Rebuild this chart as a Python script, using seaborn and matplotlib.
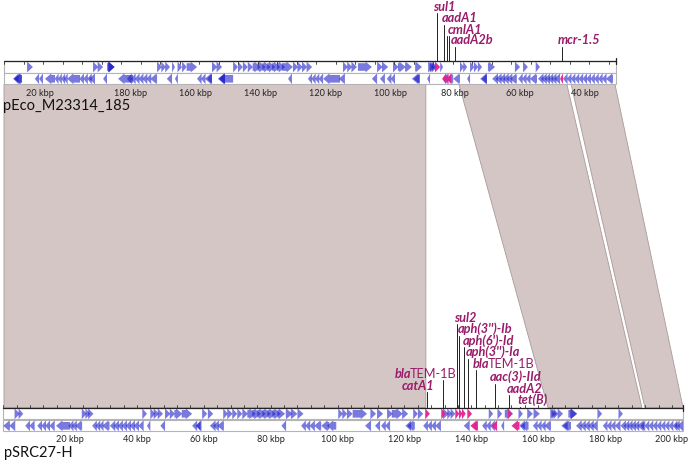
import numpy as np
import matplotlib
matplotlib.use("Agg")
import matplotlib.pyplot as plt
from matplotlib.patches import Polygon, Rectangle
import seaborn as sns

# ---- data -------------------------------------------------------------
# top plasmid, positions in kbp along the drawn (reversed, rotated) sequence
top_name = "pEco_M23314_185"
top_len = 187.7
top_origin = 31.1          # plasmid coordinate at the left end of the drawing
top_tick_kbp = [20, 180, 160, 140, 120, 100, 80, 60, 40]

top_fwd = [(7.1, 8.9), (27.4, 29.0), (28.8, 30.5), (31.7, 34.0), (32.0, 34.0), (32.3, 34.0),
           (47.1, 48.6), (48.4, 49.8), (49.6, 51.1), (51.7, 52.6), (53.4, 54.8), (54.8, 56.2),
           (56.2, 59.4), (64.0, 65.6), (65.4, 67.1), (70.5, 72.0), (72.0, 73.5), (73.5, 75.0),
           (75.0, 76.6), (76.5, 79.0), (78.0, 80.5), (79.5, 82.0), (81.0, 83.5), (82.5, 85.0),
           (84.0, 86.5), (85.5, 88.9), (88.9, 90.5), (90.3, 91.9), (91.7, 93.3), (93.1, 94.8),
           (104.3, 105.8), (105.6, 107.1), (106.9, 108.6), (108.9, 113.2), (114.8, 116.5),
           (116.3, 118.2), (119.7, 121.4), (121.2, 123.6), (123.4, 125.5), (126.5, 128.6),
           (130.5, 132.4), (131.0, 133.0), (131.6, 133.4), (134.2, 135.1), (140.3, 141.5),
           (141.3, 142.5), (143.4, 144.7), (144.6, 145.9), (145.8, 147.1), (148.9, 151.1),
           (157.2, 158.8), (159.7, 161.2), (163.6, 164.9)]
top_fwd_res = [(132.6, 134.2)]
top_rev = [(2.8, 4.5), (3.0, 5.5), (3.2, 5.5), (9.5, 10.8), (10.8, 12.0), (12.6, 15.7),
           (15.6, 16.8), (16.6, 17.8), (17.6, 18.8), (18.4, 19.6), (19.4, 23.4), (23.2, 24.6),
           (24.4, 25.8), (25.6, 27.0), (26.2, 28.0), (30.5, 31.7), (35.1, 39.7), (37.8, 39.3),
           (39.0, 40.5), (40.2, 41.7), (41.4, 42.9), (42.6, 44.1), (43.8, 45.3), (45.0, 47.1),
           (50.1, 51.7), (52.6, 53.5), (59.4, 60.8), (60.6, 62.0), (61.8, 64.0), (62.5, 64.0),
           (65.8, 68.0), (66.4, 68.0), (66.0, 70.5), (87.4, 88.6), (93.5, 94.8), (94.6, 95.9),
           (95.7, 97.0), (96.8, 98.2), (98.2, 103.4), (103.0, 104.9), (113.2, 114.8),
           (115.7, 117.2), (117.8, 119.2), (119.0, 120.3), (125.5, 127.9), (126.0, 127.9),
           (130.2, 131.1), (135.0, 136.5), (136.0, 138.2), (138.2, 140.3), (142.5, 143.4),
           (146.5, 148.6), (147.0, 148.6), (150.2, 152.0), (151.3, 153.1), (152.4, 154.2),
           (153.5, 155.3), (154.6, 156.4), (155.7, 157.8), (158.2, 159.6), (159.4, 160.8),
           (160.6, 162.0), (161.8, 164.0), (164.3, 166.0), (165.3, 167.0), (166.3, 168.0),
           (167.3, 169.0), (168.3, 170.0), (169.3, 171.1), (172.0, 173.4), (173.2, 174.6),
           (174.4, 175.8), (175.6, 177.0), (176.8, 178.2), (178.0, 179.4), (179.2, 180.6),
           (180.4, 181.8), (181.6, 183.0), (182.8, 184.2), (184.0, 185.4), (185.2, 187.4)]
top_rev_res = [(134.8, 136.0), (135.6, 136.8), (136.4, 137.6), (171.1, 172.0)]

top_genes = ["sul1", "aadA1", "cmlA1", "", "aadA2b", "mcr-1.5"]
top_gene_pos = [133.1, 135.4, 136.4, 137.0, 138.8, 171.8]
top_label_pos = [131.9, 134.7, 136.5, 136.5, 137.5, 170.5]

# bottom plasmid
bot_name = "pSRC27-H"
bot_len = 203.3
bot_tick_kbp = [20, 40, 60, 80, 100, 120, 140, 160, 180, 200]

bot_fwd = [(3.4, 5.0), (4.6, 6.0), (23.5, 25.0), (24.6, 26.0), (25.4, 27.0), (41.6, 43.0),
           (44.0, 45.5), (45.0, 46.6), (46.2, 47.8), (48.4, 50.0), (49.8, 51.4), (51.2, 53.6),
           (53.4, 56.5), (59.5, 61.0), (61.2, 62.8), (65.8, 67.2), (67.0, 68.6), (68.5, 70.0),
           (70.0, 71.5), (71.5, 73.2), (73.0, 75.5), (74.5, 77.0), (76.0, 78.5), (77.5, 80.0),
           (79.0, 81.5), (80.5, 83.0), (82.0, 84.3), (84.5, 86.5), (86.0, 88.0), (88.0, 89.8),
           (100.2, 101.6), (101.4, 102.9), (102.8, 104.5), (104.5, 108.8), (109.8, 111.5),
           (111.8, 113.6), (114.8, 116.5), (116.2, 119.5), (119.3, 121.1), (122.6, 124.0),
           (124.0, 125.6), (131.5, 133.3), (132.8, 134.2), (133.8, 135.2), (145.2, 146.5),
           (147.8, 149.2), (150.0, 152.5), (154.1, 155.4), (156.7, 158.4), (158.6, 160.5),
           (163.6, 164.9), (164.0, 165.5), (164.6, 166.0), (165.8, 167.4), (169.0, 171.6),
           (169.6, 171.6), (177.7, 179.1), (184.0, 185.3)]
bot_fwd_res = [(126.2, 127.6), (131.0, 132.3), (135.2, 136.4), (136.3, 137.4), (137.2, 138.3),
               (138.8, 140.2), (151.0, 152.2)]
bot_rev = [(0.0, 2.0), (1.8, 3.6), (6.6, 8.0), (7.8, 9.4), (10.2, 11.6), (11.4, 12.8),
           (12.6, 14.0), (13.8, 15.4), (15.8, 20.0), (19.5, 21.0), (20.5, 22.0), (21.5, 23.6),
           (26.6, 28.0), (27.6, 29.0), (28.6, 30.0), (29.6, 31.8), (31.9, 33.5), (33.0, 34.6),
           (34.2, 35.8), (35.4, 37.0), (36.6, 38.2), (37.8, 39.4), (39.0, 40.6), (40.4, 42.0),
           (43.0, 44.0), (47.0, 48.4), (56.5, 58.0), (57.5, 59.3), (57.8, 59.0), (61.8, 63.5),
           (62.8, 64.5), (64.0, 66.0), (83.2, 84.6), (89.1, 90.5), (90.3, 91.8), (91.6, 93.2),
           (93.0, 95.1), (95.1, 97.5), (96.8, 99.6), (108.2, 110.0), (111.2, 112.7),
           (113.0, 114.4), (114.2, 115.7), (120.3, 122.0), (120.8, 123.1), (125.6, 127.0),
           (126.8, 128.2), (128.0, 129.4), (129.2, 130.9), (137.7, 139.5), (140.5, 142.0),
           (143.2, 144.6), (144.4, 145.8), (145.6, 147.0), (148.9, 149.8), (154.3, 156.0),
           (154.8, 157.1), (158.4, 159.8), (159.6, 161.0), (160.8, 162.2), (161.8, 163.8),
           (166.9, 168.8), (167.4, 169.8), (171.3, 173.0), (172.5, 174.2), (173.7, 175.4),
           (174.9, 176.6), (176.0, 177.8), (179.3, 180.7), (180.5, 181.9), (181.7, 183.1),
           (182.9, 184.6), (184.6, 186.2), (185.6, 187.2), (186.6, 188.2), (187.6, 189.2),
           (188.6, 190.2), (189.6, 191.6), (190.6, 192.0), (191.8, 193.2), (193.0, 194.4),
           (194.2, 195.6), (195.4, 196.8), (196.6, 198.0), (197.8, 199.2), (199.0, 200.4),
           (200.2, 201.6), (200.7, 202.3), (201.6, 203.3)]
bot_rev_res = [(139.7, 141.8), (146.0, 147.7), (152.0, 154.4)]

bot_genes = ["sul2", "aph(3'')-Ib", "aph(6')-Id", "aph(3'')-Ia", "blaTEM-1B",
             "blaTEM-1B", "catA1", "aac(3)-IId", "aadA2", "tet(B)"]
bot_gene_pos = [135.6, 136.4, 137.8, 138.9, 141.4, 131.4, 126.6, 147.1, 151.3, 154.5]
bot_label_pos = [134.8, 136.0, 137.5, 138.4, 140.5, 117.2, 119.3, 145.6, 150.6, 153.9]

# blastn hits: (top start, top end) -> (bottom start, bottom end)
hit_top = [(0.0, 129.8), (140.0, 173.2), (174.5, 188.0)]
hit_bot = [(0.24, 126.4), (162.9, 191.0), (191.9, 203.3)]

# ---- layout ---------------------------------------------------------------
PX = 3.344                      # pixels per kbp, bottom track
TOP_K = 3.25 / PX               # top drawing scale relative to bottom
TOP_SHIFT = 0.8 / PX

top_label_y = [13, 24.5, 35.5, 35.5, 46.5, 46.5]
bot_label_y = [324, 335.5, 347, 358.5, 370, 380, 392, 383.5, 395, 406.5]

TOP_RULER, BOT_RULER = 61.5, 408.5
TOP_F, TOP_R = 68.0, 79.8
BOT_F, BOT_R = 414.8, 426.8

BLUE = (0.1, 0.1, 0.78)
PINK = "#e3218f"
HIT = "#d5c6c6"
LABEL = "#9a1c6a"
LABEL_SIZE = 9.2

sns.set_theme(style="white")
plt.rcParams["font.family"] = ["Lato", "DejaVu Sans"]


def tx(d):
    return TOP_SHIFT + TOP_K * np.asarray(d, dtype=float)


def draw_gene(ax, s, e, yc, strand, color, alpha, z):
    hl = min(1.9, e - s)
    bh, hh = 3.8, 5.4
    if strand > 0:
        pts = [(s, yc - bh), (e - hl, yc - bh), (e - hl, yc - hh), (e, yc),
               (e - hl, yc + hh), (e - hl, yc + bh), (s, yc + bh)]
    else:
        pts = [(e, yc - bh), (s + hl, yc - bh), (s + hl, yc - hh), (s, yc),
               (s + hl, yc + hh), (s + hl, yc + bh), (e, yc + bh)]
    ax.add_patch(Polygon(pts, closed=True, facecolor=color, edgecolor="none",
                         alpha=alpha, zorder=z))


def draw_track(ax, conv, length, ruler_y, fy, ry, fwd, fwd_res, rev, rev_res, tick_step, up):
    x0, x1 = conv(0), conv(length)
    for yc in (fy, ry):
        ax.add_patch(Rectangle((x0, yc - 5.6), x1 - x0, 11.2, facecolor="white",
                               edgecolor="#b4b4b4", lw=0.8, zorder=2))
    ax.plot([x0, x1], [ruler_y, ruler_y], color="#222222", lw=0.9, zorder=4)
    for t in np.arange(0, length + 0.01, tick_step):
        ax.plot([conv(t)] * 2, [ruler_y, ruler_y + (-3 if up else 3)],
                color="#333333", lw=0.6, zorder=4)
    ax.plot([x1, x1], [ruler_y - 3, ruler_y + 3], color="#222222", lw=0.9, zorder=4)
    for s, e in fwd:
        draw_gene(ax, conv(s), conv(e), fy, 1, BLUE, 0.58, 3)
    for s, e in rev:
        draw_gene(ax, conv(s), conv(e), ry, -1, BLUE, 0.58, 3)
    for s, e in fwd_res:
        draw_gene(ax, conv(s), conv(e), fy, 1, PINK, 0.95, 3.5)
    for s, e in rev_res:
        draw_gene(ax, conv(s), conv(e), ry, -1, PINK, 0.95, 3.5)


def gene_label(ax, x, y, name):
    style = dict(fontsize=LABEL_SIZE, color=LABEL, va="bottom", ha="left", zorder=6)
    if name.startswith("bla"):
        t = ax.text(x, y, "bla", fontweight="bold", fontstyle="italic", **style)
        ax.annotate(name[3:], xy=(1, 0), xycoords=t, xytext=(-1.2, 0),
                    textcoords="offset points", fontsize=LABEL_SIZE, color=LABEL,
                    va="bottom", ha="left", zorder=6)
    else:
        ax.text(x, y, name, fontweight="bold", fontstyle="italic", **style)


fig = plt.figure(figsize=(6.88, 4.64), dpi=100)
ax = fig.add_axes([0, 0, 1, 1])
ax.set_xlim(-3.2 / PX, (688 - 3.2) / PX)
ax.set_ylim(464, 0)
ax.axis("off")

# blast hit blocks
top_edge, bot_edge = TOP_R + 5.6, BOT_RULER
for (a, b), (c, d) in zip(hit_top, hit_bot):
    ax.add_patch(Polygon([(tx(a), top_edge), (tx(b), top_edge), (d, bot_edge), (c, bot_edge)],
                         closed=True, facecolor=HIT, edgecolor="#a89a9a", lw=0.6, zorder=1))

draw_track(ax, tx, top_len + 0.6, TOP_RULER, TOP_F, TOP_R, top_fwd, top_fwd_res,
           top_rev, top_rev_res, 6.0, False)
draw_track(ax, lambda v: np.asarray(v, dtype=float), bot_len, BOT_RULER, BOT_F, BOT_R,
           bot_fwd, bot_fwd_res, bot_rev, bot_rev_res, 4.0, True)

# kbp labels
for k in top_tick_kbp:
    d = (top_origin - k) % top_len
    ax.text(tx(d), 93, f"{k} kbp", fontsize=6.6, ha="center", va="center", color="#222222")
for k in bot_tick_kbp:
    ax.text(k, 440, f"{k} kbp", fontsize=6.6, ha="center", va="center", color="#222222")

ax.text(tx(0) - 0.2, 106, top_name, fontsize=10.5, ha="left", va="center", color="#111111")
ax.text(0.2, 453, bot_name, fontsize=10.5, ha="left", va="center", color="#111111")

# resistance gene annotations
for name, g, lx, ly in zip(top_genes, top_gene_pos, top_label_pos, top_label_y):
    ax.plot([tx(g)] * 2, [TOP_RULER, ly + 1], color="#222222", lw=0.7, zorder=5)
    if name:
        gene_label(ax, tx(lx), ly, name)
for name, g, lx, ly in zip(bot_genes, bot_gene_pos, bot_label_pos, bot_label_y):
    ax.plot([g, g], [BOT_RULER, ly + 1], color="#222222", lw=0.7, zorder=5)
    gene_label(ax, lx, ly, name)

fig.savefig("out.png", dpi=100)
